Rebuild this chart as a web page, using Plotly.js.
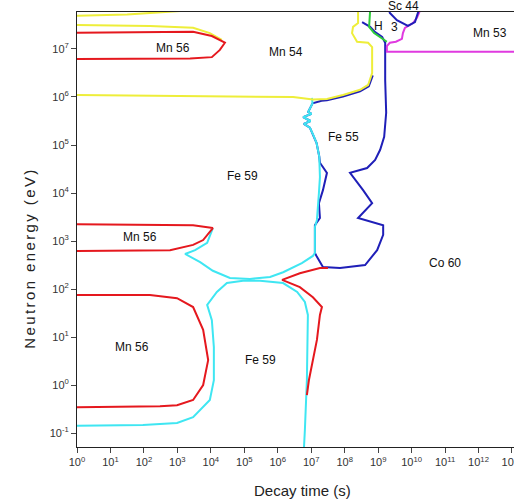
<!DOCTYPE html>
<html>
<head>
<meta charset="utf-8">
<script src="https://cdn.plot.ly/plotly-3.0.1.min.js"></script>
<style>html,body{margin:0;padding:0;background:#fff;}#chart{width:514px;height:499px;}</style>
</head>
<body>
<div id="chart"></div>
<script>
// All curve values are log10(decay time [s]) and log10(neutron energy [eV])
const yellowTop1LogT = [0, 1.5, 3.1];
const yellowTop1LogE = [7.69, 7.72, 7.79];

const yellowTop2LogT = [0, 2.18, 3.47, 3.97, 4.33];
const yellowTop2LogE = [7.5, 7.48, 7.44, 7.33, 7.19];

const redTopLogT = [0, 1.58, 3.47, 4.03, 4.42, 4.27, 4.03, 3.38, 1.58, 0];
const redTopLogE = [7.34, 7.35, 7.36, 7.27, 7.13, 6.98, 6.83, 6.80, 6.79, 6.79];

const yellowMainLogT = [0, 3.0, 6.46, 7.05, 7.47, 7.95, 8.46, 8.70, 8.82, 8.82, 8.70, 8.37, 8.22, 8.25, 8.40, 8.40];
const yellowMainLogE = [6.04, 6.02, 6.0, 5.95, 5.96, 6.04, 6.15, 6.25, 6.5, 7.04, 7.13, 7.15, 7.33, 7.46, 7.54, 7.8];

const blueMainLogT = [8.84, 8.72, 8.46, 7.95, 7.47, 7.31, 7.04, 6.91, 7.01, 6.76, 6.98, 6.78, 6.96, 7.06, 7.16, 7.24, 7.26, 7.47, 7.35, 7.23, 7.26, 7.11, 7.11, 7.17, 7.35, 7.86, 8.61, 8.97, 9.15, 9.15, 8.40, 8.82, 8.55, 8.16, 8.67, 8.91, 9.06, 9.18, 9.21, 9.24, 9.21, 9.21, 9.21, 9.12, 8.91, 8.76, 8.52];
const blueMainLogE = [6.45, 6.22, 6.12, 6.01, 5.93, 5.92, 5.87, 5.69, 5.65, 5.58, 5.5, 5.44, 5.36, 5.21, 5.04, 4.76, 4.63, 4.42, 4.06, 3.79, 3.48, 3.33, 2.75, 2.67, 2.46, 2.44, 2.5, 2.81, 3.13, 3.33, 3.48, 3.79, 4.06, 4.42, 4.52, 4.69, 4.90, 5.17, 5.38, 5.67, 6.35, 6.88, 7.13, 7.25, 7.35, 7.46, 7.56];

const cyanUpperLogT = [7.02, 7.04, 6.91, 7.01, 6.76, 6.98, 6.78, 6.96, 7.06, 7.16, 7.24, 7.26, 7.23, 7.17, 7.11, 7.11, 7.05, 6.72, 6.16, 5.77, 5.17, 4.57, 4.06, 3.68, 3.23, 3.53, 3.89, 4.06];
const cyanUpperLogE = [5.98, 5.87, 5.69, 5.65, 5.58, 5.5, 5.44, 5.36, 5.21, 5.04, 4.76, 4.33, 4.0, 3.44, 3.29, 2.75, 2.69, 2.54, 2.35, 2.25, 2.21, 2.23, 2.38, 2.56, 2.73, 2.81, 2.96, 3.27];

const cyanLowerLogT = [0, 1.97, 2.99, 3.47, 3.97, 4.09, 4.09, 4.03, 3.89, 4.18, 4.48, 4.96, 5.47, 5.77, 6.16, 6.58, 6.81, 6.90, 6.87, 6.81, 6.78];
const cyanLowerLogE = [-0.85, -0.83, -0.79, -0.67, -0.31, 0.10, 0.79, 1.35, 1.67, 1.94, 2.125, 2.17, 2.17, 2.15, 2.125, 1.94, 1.73, 1.46, 0.10, -0.94, -1.35];

const redMidLogT = [0, 3.47, 4.06, 3.77, 3.47, 2.78, 0];
const redMidLogE = [3.35, 3.33, 3.27, 3.02, 2.92, 2.81, 2.79];

const redLowLogT = [0, 2.18, 2.99, 3.47, 3.77, 3.92, 3.77, 3.47, 2.99, 2.48, 0];
const redLowLogE = [1.875, 1.875, 1.81, 1.625, 1.15, 0.52, 0.0, -0.31, -0.42, -0.44, -0.46];

const redRightLogT = [7.50, 7.26, 6.66, 6.13, 6.66, 7.05, 7.32, 7.26, 7.17, 7.05, 6.93, 6.87];
const redRightLogE = [2.44, 2.44, 2.33, 2.19, 2.04, 1.83, 1.625, 1.46, 0.94, 0.52, 0.10, -0.21];

const greenLogT = [8.76, 8.73, 8.73, 8.88, 9.06, 9.26];
const greenLogE = [7.8, 7.60, 7.46, 7.33, 7.25, 7.15];

const magentaLogT = [10.25, 10.16, 10.04, 9.80, 9.74, 9.71, 9.53, 9.35, 9.26, 9.26, 9.35, 13.06];
const magentaLogE = [7.8, 7.65, 7.54, 7.44, 7.33, 7.21, 7.15, 7.13, 7.06, 6.94, 6.94, 6.94];

const blueSc44LogT = [9.33, 9.35, 9.56, 9.71, 9.89, 10.10, 10.19, 10.21];
const blueSc44LogE = [7.8, 7.75, 7.60, 7.54, 7.48, 7.56, 7.75, 7.8];

const regionLabels = ["Mn 56", "Mn 54", "H", "3", "Mn 53", "Fe 55", "Fe 59", "Mn 56", "Co 60", "Mn 56", "Fe 59"];
const labelLogT = [2.87, 6.25, 9.0, 9.50, 12.34, 7.95, 4.96, 1.88, 11.0, 1.64, 5.47];
const labelLogE = [7.02, 6.94, 7.48, 7.46, 7.33, 5.17, 4.35, 3.08, 2.54, 0.79, 0.52];
const topLabel = "Sc 44";
const topLabelLogT = 9.77;

const xTickExp = [0,1,2,3,4,5,6,7,8,9,10,11,12,13];
const yTickExp = [-1,0,1,2,3,4,5,6,7];
const xTitle = 'Decay time (s)';
const yTitle = 'Neutron energy (eV)';

const pw = a => a.map(v => Math.pow(10, v));

function line(tx, ty, color) {
  return {x: pw(tx), y: pw(ty), type: 'scatter', mode: 'lines',
          line: {color: color, width: 2}, hoverinfo: 'skip', showlegend: false};
}

const RED = '#e5181e', YEL = '#eeee3a', CYAN = '#3fe6f2', BLUE = '#1f1fb8', GREEN = '#2ecc3a', MAG = '#e03ae0';

const traces = [
  line(blueMainLogT, blueMainLogE, BLUE),
  line(cyanUpperLogT, cyanUpperLogE, CYAN),
  line(cyanLowerLogT, cyanLowerLogE, CYAN),
  line(yellowMainLogT, yellowMainLogE, YEL),
  line(yellowTop1LogT, yellowTop1LogE, YEL),
  line(yellowTop2LogT, yellowTop2LogE, YEL),
  line(redTopLogT, redTopLogE, RED),
  line(redMidLogT, redMidLogE, RED),
  line(redLowLogT, redLowLogE, RED),
  line(redRightLogT, redRightLogE, RED),
  line(greenLogT, greenLogE, GREEN),
  line(magentaLogT, magentaLogE, MAG),
  line(blueSc44LogT, blueSc44LogE, BLUE)
];

const FONT = 'Liberation Sans, Arial, sans-serif';
const annotations = regionLabels.map((t, i) => ({
  text: t, x: labelLogT[i], y: labelLogE[i], xref: 'x', yref: 'y',
  showarrow: false, font: {family: FONT, size: 12, color: '#111'}
}));
annotations.push({text: topLabel, x: topLabelLogT, xref: 'x', y: 1.013, yref: 'paper',
  yanchor: 'middle', showarrow: false, font: {family: FONT, size: 12, color: '#111'}});
annotations.push({text: xTitle, x: 0.517, xref: 'paper', y: -0.099, yref: 'paper',
  yanchor: 'middle', showarrow: false, font: {family: FONT, size: 15, color: '#222'}});
annotations.push({text: yTitle, x: -0.1076, xref: 'paper', y: 0.4345, yref: 'paper',
  textangle: -90, xanchor: 'center', yanchor: 'middle', showarrow: false,
  font: {family: FONT, size: 15, color: '#222'}});

const layout = {
  width: 514, height: 499,
  margin: {l: 77, r: 0, t: 12, b: 52},
  paper_bgcolor: '#fff', plot_bgcolor: '#fff',
  font: {family: FONT, color: '#333'},
  xaxis: {
    type: 'log', range: [0, 13.06],
    tickvals: pw(xTickExp), ticktext: xTickExp.map(e => '10<sup>' + e + '</sup>'),
    ticklabeloverflow: 'allow',
    ticks: 'outside', ticklen: 5, tickcolor: '#444', tickfont: {size: 11, color: '#333'},
    showline: true, linecolor: '#222', linewidth: 1, mirror: true,
    showgrid: false, zeroline: false
  },
  yaxis: {
    type: 'log', range: [-1.29, 7.77],
    tickvals: pw(yTickExp), ticktext: yTickExp.map(e => '10<sup>' + e + '</sup>'),
    ticks: 'outside', ticklen: 5, tickcolor: '#444', tickfont: {size: 11, color: '#333'},
    showline: true, linecolor: '#222', linewidth: 1,
    showgrid: false, zeroline: false
  },
  annotations: annotations
};

Plotly.newPlot('chart', traces, layout, {staticPlot: true, displayModeBar: false}).then(gd => {
  gd.querySelectorAll('.annotation-text').forEach(el => {
    if (el.textContent === yTitle) el.style.letterSpacing = '2.4px';
  });
});
</script>
</body>
</html>
